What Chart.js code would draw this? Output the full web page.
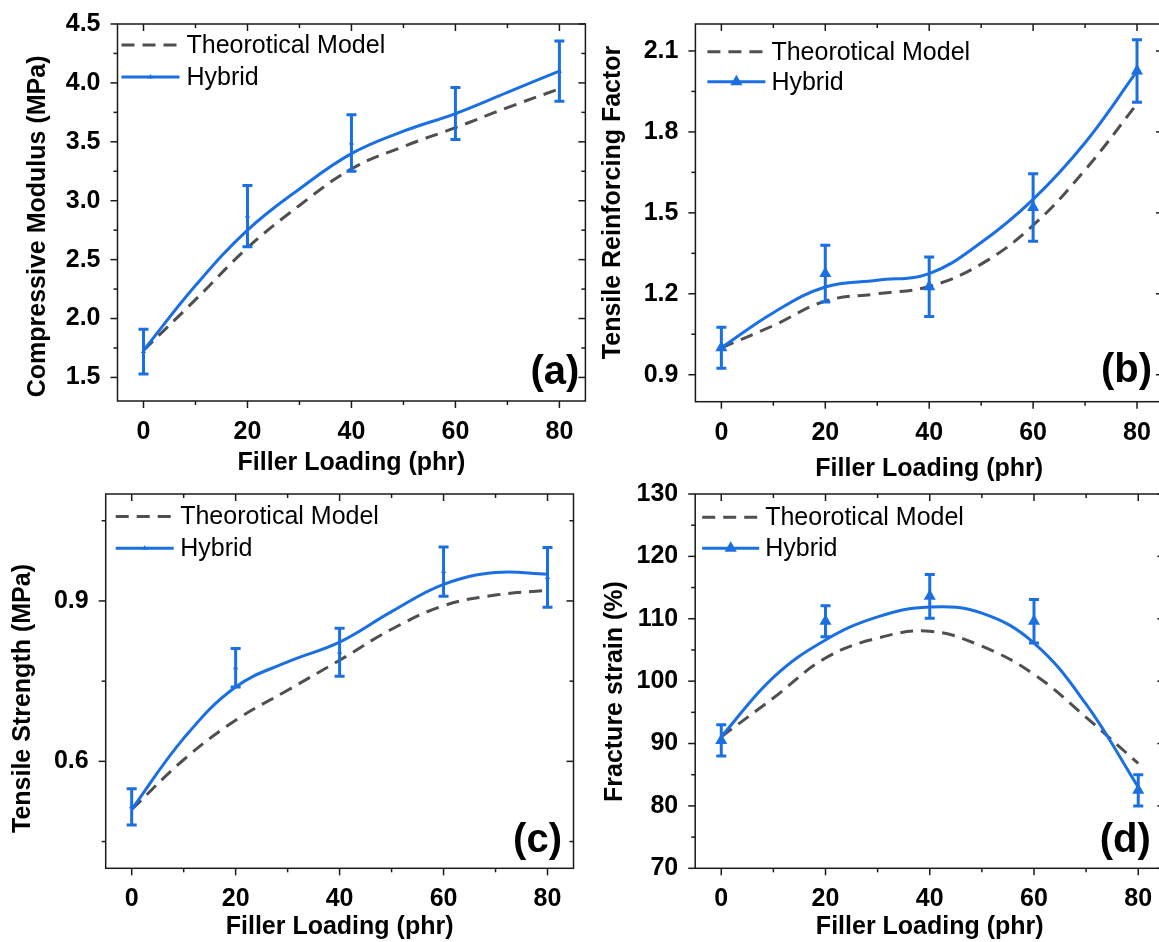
<!DOCTYPE html>
<html>
<head>
<meta charset="utf-8">
<script src="https://cdn.jsdelivr.net/npm/chart.js@4.4.1/dist/chart.umd.min.js"></script>
<style>
  html, body { margin: 0; padding: 0; background: #fff; overflow: hidden; width: 1159px; height: 942px; }
  canvas { position: absolute; }
</style>
</head>
<body>
<canvas id="chartA" width="600" height="490" style="left:0px;top:0px"></canvas>
<canvas id="chartB" width="600" height="490" style="left:580px;top:0px"></canvas>
<canvas id="chartC" width="600" height="472" style="left:0px;top:470px"></canvas>
<canvas id="chartD" width="600" height="472" style="left:580px;top:470px"></canvas>
<script>
// shared x values
const fillerLoading = [0, 20, 40, 60, 80];
const fitLoading = [0, 10, 20, 30, 40, 50, 60, 70, 80];
const xTicks = [0, 20, 40, 60, 80];
const xMinorTicks = [10, 30, 50, 70];

// (a) compressive modulus
const modulusHybrid = [1.72, 2.87, 3.49, 3.74, 4.10];
const modulusHybridErr = [0.19, 0.26, 0.24, 0.22, 0.255];
const modulusHybridFit = [1.73, 2.28, 2.75, 3.10, 3.40, 3.59, 3.74, 3.92, 4.10];
const modulusTheory = [1.73, 2.16, 2.60, 2.96, 3.27, 3.46, 3.62, 3.79, 3.95];
const modulusTicks = [1.5, 2.0, 2.5, 3.0, 3.5, 4.0, 4.5];
const modulusMinor = [1.75, 2.25, 2.75, 3.25, 3.75, 4.25];

// (b) tensile reinforcing factor
const factorHybrid = [1.00, 1.275, 1.226, 1.52, 2.026];
const factorHybridErr = [0.076, 0.105, 0.11, 0.125, 0.116];
const factorHybridFit = [1.00, 1.13, 1.225, 1.25, 1.275, 1.39, 1.55, 1.76, 2.025];
const factorTheory = [1.00, 1.082, 1.173, 1.20, 1.227, 1.31, 1.454, 1.659, 1.904];
const factorTicks = [0.9, 1.2, 1.5, 1.8, 2.1];
const factorMinor = [1.05, 1.35, 1.65, 1.95];

// (c) tensile strength
const strengthHybrid = [0.515, 0.775, 0.804, 0.955, 0.944];
const strengthHybridErr = [0.034, 0.036, 0.045, 0.046, 0.056];
const strengthHybridFit = [0.51, 0.643, 0.739, 0.786, 0.823, 0.88, 0.931, 0.953, 0.95];
const strengthTheory = [0.51, 0.603, 0.677, 0.733, 0.789, 0.847, 0.891, 0.911, 0.92];
const strengthTicks = [0.6, 0.9];
const strengthMinor = [0.45, 0.75, 1.05];

// (d) fracture strain
const strainHybrid = [90.5, 109.6, 113.6, 109.6, 82.5];
const strainHybridErr = [2.5, 2.5, 3.5, 3.5, 2.5];
const strainHybridFit = [91.1, 100.6, 106.6, 110.3, 111.9, 110.9, 106.1, 96.3, 83.0];
const strainTheory = [91.1, 97.3, 103.7, 106.9, 108.0, 105.6, 101.1, 94.2, 86.8];
const strainTicks = [70, 80, 90, 100, 110, 120, 130];
const strainMinor = [75, 85, 95, 105, 115, 125];

const BLUE = '#1a6fe3';
const GREY = '#4f4f4f';
const FONT = "'Liberation Sans', Arial, sans-serif";

const toPoints = (xs, ys) => xs.map((x, i) => ({ x, y: ys[i] }));

// frame around the plot plus Origin style ticks (out on bottom/left, in on top/right)
const frameTicks = {
  id: 'frameTicks',
  afterDraw(chart) {
    const { ctx, chartArea: a, scales: { x, y } } = chart;
    const p = chart.options.plugins.frameTicks;
    ctx.save();
    ctx.strokeStyle = '#1a1a1a';
    ctx.lineWidth = 1.5;
    ctx.strokeRect(a.left, a.top, a.right - a.left, a.bottom - a.top);
    const seg = (x1, y1, x2, y2) => { ctx.beginPath(); ctx.moveTo(x1, y1); ctx.lineTo(x2, y2); ctx.stroke(); };
    const doX = (vals, len) => vals.forEach(v => {
      const px = x.getPixelForValue(v);
      seg(px, a.bottom, px, a.bottom + len);
      seg(px, a.top, px, a.top + len);
    });
    const doY = (vals, len) => vals.filter(v => v >= y.min && v <= y.max).forEach(v => {
      const py = y.getPixelForValue(v);
      seg(a.left, py, a.left - len, py);
      seg(a.right, py, a.right - len, py);
    });
    doX(xTicks, 7); doX(xMinorTicks, 4);
    doY(p.yMajor, 7); doY(p.yMinor, 4);
    ctx.restore();
  }
};

const errorBars = {
  id: 'errorBars',
  afterDatasetsDraw(chart) {
    const { ctx, scales: { x, y } } = chart;
    chart.data.datasets.forEach(ds => {
      if (!ds.errors) return;
      ctx.save();
      ctx.strokeStyle = ds.borderColor;
      ctx.lineWidth = 3;
      ds.data.forEach((pt, i) => {
        const px = x.getPixelForValue(pt.x);
        const top = y.getPixelForValue(pt.y + ds.errors[i]);
        const bot = y.getPixelForValue(pt.y - ds.errors[i]);
        ctx.beginPath();
        ctx.moveTo(px, top); ctx.lineTo(px, bot);
        ctx.moveTo(px - 5, top); ctx.lineTo(px + 5, top);
        ctx.moveTo(px - 5, bot); ctx.lineTo(px + 5, bot);
        ctx.stroke();
      });
      ctx.restore();
    });
  }
};

const legendBox = {
  id: 'legendBox',
  afterDraw(chart) {
    const { ctx, chartArea: a } = chart;
    const p = chart.options.plugins.legendBox;
    const [theory, fit, marks] = chart.data.datasets;
    const x1 = a.left + p.x, x2 = x1 + p.len;
    const y1 = a.top + p.y, y2 = y1 + p.gap;
    ctx.save();
    ctx.lineWidth = 3;
    ctx.strokeStyle = theory.borderColor;
    ctx.setLineDash(theory.borderDash);
    ctx.beginPath(); ctx.moveTo(x1, y1); ctx.lineTo(x2, y1); ctx.stroke();
    ctx.setLineDash([]);
    ctx.strokeStyle = fit.borderColor;
    ctx.beginPath(); ctx.moveTo(x1, y2); ctx.lineTo(x2, y2); ctx.stroke();
    ctx.fillStyle = marks.backgroundColor;
    Chart.helpers.drawPoint(ctx, { pointStyle: 'triangle', radius: marks.pointRadius, rotation: 0, borderWidth: 0 }, (x1 + x2) / 2, y2);
    ctx.fillStyle = '#000';
    ctx.font = '25px ' + FONT;
    ctx.textBaseline = 'middle';
    ctx.fillText(theory.label, x2 + p.textGap, y1 + 1);
    ctx.fillText(marks.label, x2 + p.textGap, y2 + 1);
    // panel letter
    ctx.font = 'bold 40px ' + FONT;
    ctx.textAlign = 'right';
    ctx.textBaseline = 'alphabetic';
    ctx.fillText(p.tag, a.right - p.tagDx, a.bottom - p.tagDy);
    ctx.restore();
  }
};

function makePanel(cfg) {
  const tickFont = { family: FONT, size: 25, weight: 'bold' };
  const titleFont = { family: FONT, size: 25, weight: 'bold' };
  return new Chart(document.getElementById(cfg.id), {
    type: 'scatter',
    data: {
      datasets: [
        {
          label: 'Theorotical Model',
          data: toPoints(fitLoading, cfg.theory),
          showLine: true,
          borderColor: GREY,
          borderWidth: 3,
          borderDash: [13, 8],
          pointRadius: 0,
          tension: 0.4,
          order: 3
        },
        {
          label: 'Hybrid fit',
          data: toPoints(fitLoading, cfg.fit),
          showLine: true,
          borderColor: BLUE,
          borderWidth: 3,
          pointRadius: 0,
          tension: 0.4,
          order: 2
        },
        {
          label: 'Hybrid',
          data: toPoints(fillerLoading, cfg.hybrid),
          errors: cfg.err,
          showLine: false,
          pointStyle: 'triangle',
          pointRadius: cfg.markerSize,
          backgroundColor: BLUE,
          borderColor: BLUE,
          borderWidth: 0,
          order: 1
        }
      ]
    },
    options: {
      responsive: false,
      animation: false,
      devicePixelRatio: 1,
      layout: { padding: cfg.pad },
      plugins: {
        legend: { display: false },
        tooltip: { enabled: false },
        frameTicks: { yMajor: cfg.yTicks, yMinor: cfg.yMinor },
        legendBox: cfg.legend
      },
      scales: {
        x: {
          type: 'linear',
          min: -5,
          max: 85,
          afterBuildTicks: s => { s.ticks = xTicks.map(v => ({ value: v })); },
          afterFit: s => { s.height = cfg.xHeight; },
          grid: { display: false },
          border: { display: false },
          ticks: { font: tickFont, color: '#000', padding: 8, maxRotation: 0 },
          title: { display: true, text: 'Filler Loading (phr)', font: titleFont, color: '#000', padding: { top: 0, bottom: cfg.xTitlePad } }
        },
        y: {
          type: 'linear',
          min: cfg.yMin,
          max: cfg.yMax,
          afterBuildTicks: s => { s.ticks = cfg.yTicks.map(v => ({ value: v })); },
          afterFit: s => { s.width = cfg.yWidth; },
          grid: { display: false },
          border: { display: false },
          ticks: { font: tickFont, color: '#000', padding: 9, callback: v => v.toFixed(cfg.digits) },
          title: { display: true, text: cfg.yTitle, font: titleFont, color: '#000', padding: { top: cfg.yTitlePad, bottom: 0 } }
        }
      }
    },
    plugins: [errorBars, frameTicks, legendBox]
  });
}

// y titles carry a few spaces so that they sit where the original puts them along the axis
makePanel({
  id: 'chartA', yTitle: 'Compressive Modulus (MPa)    ', yMin: 1.3, yMax: 4.5, digits: 1,
  yTicks: modulusTicks, yMinor: modulusMinor,
  hybrid: modulusHybrid, err: modulusHybridErr, fit: modulusHybridFit, theory: modulusTheory,
  markerSize: 3,
  pad: { left: 0, top: 24, right: 14.6, bottom: 0 }, yWidth: 117.5, xHeight: 89, yTitlePad: 23, xTitlePad: 12,
  legend: { x: 4, len: 58, y: 21, gap: 32, textGap: 7, tag: '(a)', tagDx: 6, tagDy: 17 }
});

makePanel({
  id: 'chartB', yTitle: '   Tensile Reinforcing Factor', yMin: 0.8, yMax: 2.2, digits: 1,
  yTicks: factorTicks, yMinor: factorMinor,
  hybrid: factorHybrid, err: factorHybridErr, fit: factorHybridFit, theory: factorTheory,
  markerSize: 7,
  pad: { left: 0, top: 24, right: 17, bottom: 0 }, yWidth: 115.4, xHeight: 88.3, yTitlePad: 18, xTitlePad: 6,
  legend: { x: 12, len: 58, y: 27.7, gap: 30, textGap: 6, tag: '(b)', tagDx: 11, tagDy: 20 }
});

makePanel({
  id: 'chartC', yTitle: 'Tensile Strength (MPa)     ', yMin: 0.4, yMax: 1.1, digits: 1,
  yTicks: strengthTicks, yMinor: strengthMinor,
  hybrid: strengthHybrid, err: strengthHybridErr, fit: strengthHybridFit, theory: strengthTheory,
  markerSize: 3,
  pad: { left: 0, top: 20.7, right: 26.5, bottom: 0 }, yWidth: 105.7, xHeight: 73.7, yTitlePad: 8, xTitlePad: 0,
  legend: { x: 10, len: 58, y: 22.6, gap: 31.7, textGap: 6.5, tag: '(c)', tagDx: 11.5, tagDy: 16 }
});

makePanel({
  id: 'chartD', yTitle: 'Fracture strain (%)   ', yMin: 70, yMax: 130, digits: 0,
  yTicks: strainTicks, yMinor: strainMinor,
  hybrid: strainHybrid, err: strainHybridErr, fit: strainHybridFit, theory: strainTheory,
  markerSize: 7,
  pad: { left: 0, top: 21.7, right: 15.7, bottom: 0 }, yWidth: 115.2, xHeight: 73.7, yTitlePad: 20, xTitlePad: 0,
  legend: { x: 7, len: 57, y: 23.3, gap: 31, textGap: 6, tag: '(d)', tagDx: 13.5, tagDy: 16 }
});
</script>
</body>
</html>
